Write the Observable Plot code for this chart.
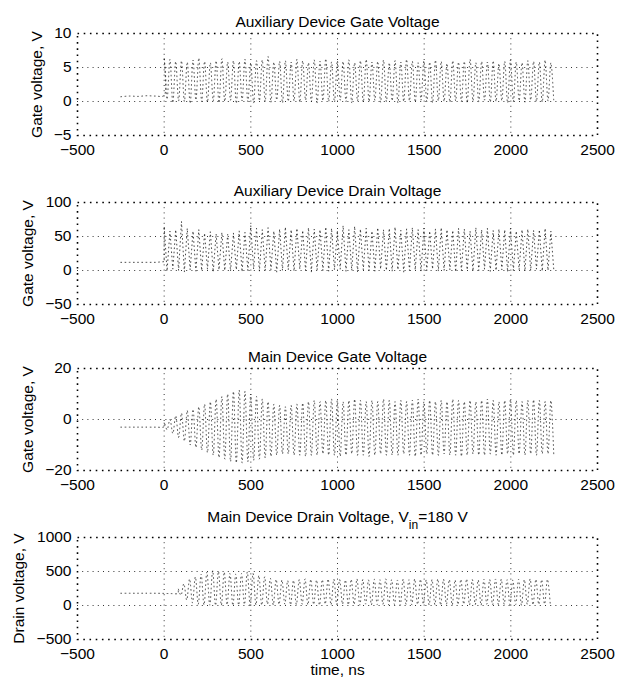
<!DOCTYPE html>
<html>
<head>
<meta charset="utf-8">
<script src="https://cdn.jsdelivr.net/npm/d3@7"></script>
<script src="https://cdn.jsdelivr.net/npm/@observablehq/plot@0.6"></script>
<style>
  html, body { margin: 0; padding: 0; background: #fff; }
  #chart { width: 628px; }
  #chart svg { display: block; }
</style>
</head>
<body>
<div id="chart"></div>
<script>
// ---------- axis data ----------
const xTicks = [-500, 0, 500, 1000, 1500, 2000, 2500];
const xTickLabels = ["\u2212500", "0", "500", "1000", "1500", "2000", "2500"];

const titles = [
  "Auxiliary Device Gate Voltage",
  "Auxiliary Device Drain Voltage",
  "Main Device Gate Voltage",
  "Main Device Drain Voltage, Vin=180 V"
];
const yLabels = ["Gate voltage, V", "Gate voltage, V", "Gate voltage, V", "Drain voltage, V"];
const yDomains = [[-5, 10], [-50, 100], [-20, 20], [-500, 1000]];
const yTicks1 = [-5, 0, 5, 10];
const yTicks2 = [-50, 0, 50, 100];
const yTicks3 = [-20, 0, 20];
const yTicks4 = [-500, 0, 500, 1000];
const yTickLabels1 = ["\u22125", "0", "5", "10"];
const yTickLabels2 = ["\u221250", "0", "50", "100"];
const yTickLabels3 = ["\u221220", "0", "20"];
const yTickLabels4 = ["\u2212500", "0", "500", "1000"];

// ---------- signal data (ns, V) ----------
const period = 33.3; // oscillation period, ns

// Auxiliary gate
const auxGatePreT = [-250, -200, -150, -100, -50, 0];
const auxGatePreV = [0.7, 0.8, 0.75, 0.85, 0.8, 0.9];
const auxGateStart = 0;
const auxGateHi = [6.5, 6.2, 5.9, 6.0, 5.8, 6.1, 6.4, 5.9, 5.7, 6.0,
                   6.3, 5.8, 6.0, 5.9, 6.2, 5.7, 6.0, 6.1, 6.6, 5.8,
                   5.9, 6.0, 5.8, 6.2, 6.0, 5.7, 6.1, 5.9, 6.3, 5.8,
                   6.0, 5.9, 6.1, 5.7, 6.0, 6.2, 5.8, 5.9, 6.1, 5.7,
                   6.0, 5.8, 6.2, 5.9, 5.7, 6.0, 5.8, 6.1, 5.9, 5.6,
                   6.0, 5.8, 5.9, 6.2, 5.7, 5.9, 5.8, 6.0, 5.6, 5.9,
                   6.1, 5.8, 5.7, 6.0, 5.9, 5.8, 6.1, 5.7];
const auxGateLo = [0.3, -0.2, 0.1, 0.0, -0.3, 0.2, 0.0, -0.1, 0.1, -0.2,
                   0.0, 0.2, -0.3, 0.1, 0.0, -0.2, 0.1, 0.0, -0.1, 0.2,
                   -0.2, 0.0, 0.1, -0.1, 0.2, 0.0, -0.2, 0.1, 0.0, -0.1,
                   0.2, 0.0, -0.2, 0.1, -0.1, 0.0, 0.2, -0.1, 0.0, 0.1,
                   -0.2, 0.0, 0.1, -0.1, 0.2, 0.0, -0.2, 0.1, 0.0, -0.1,
                   0.1, 0.0, -0.2, 0.1, 0.0, 0.2, -0.1, 0.0, 0.1, -0.2,
                   0.0, 0.1, -0.1, 0.2, 0.0, -0.1, 0.1, 0.0];

// Auxiliary drain
const auxDrainPreT = [-250, -200, -150, -100, -50, 0];
const auxDrainPreV = [12, 12, 12, 12, 12, 13];
const auxDrainStart = 0;
const auxDrainHi = [65, 58, 60, 72, 62, 58, 60, 55, 57, 54,
                    56, 53, 55, 58, 56, 66, 62, 60, 63, 58,
                    61, 64, 60, 62, 59, 63, 61, 60, 64, 62,
                    59, 66, 60, 65, 61, 62, 58, 63, 60, 62,
                    64, 59, 61, 63, 60, 62, 58, 61, 63, 60,
                    59, 62, 61, 58, 63, 60, 62, 59, 61, 60,
                    62, 58, 60, 61, 59, 60, 62, 58];
const auxDrainLo = [-1, 2, 0, -2, 1, -1, 0, 2, -2, 1,
                    0, -1, 1, -2, 0, 2, -1, 0, 1, -2,
                    0, 1, -1, 2, 0, -2, 1, 0, -1, 1,
                    2, -1, 0, -2, 1, 0, -1, 2, 0, -1,
                    1, -2, 0, 1, -1, 0, 2, -1, 0, 1,
                    -2, 0, 1, -1, 0, 2, -1, 0, 1, -2,
                    0, 1, -1, 0, 2, -1, 0, 1];

// Main gate
const mainGatePreT = [-250, -200, -150, -100, -50, 0];
const mainGatePreV = [-3, -3, -3, -3, -3, -2.8];
const mainGateStart = 0;
const mainGateHi = [-1, 0, 1.5, 2.5, 3.5, 4, 5, 6, 7, 8,
                    9, 10, 11, 11.5, 11, 10, 9, 8, 7, 6,
                    5.5, 5, 5.5, 6, 6.5, 7, 7.5, 7, 7.5, 8,
                    7.5, 7, 7.5, 8, 7.5, 7, 7.5, 7, 8, 7.5,
                    7, 7.5, 7, 7.5, 8, 7, 7.5, 7, 7.5, 7,
                    8, 7.5, 7, 7.5, 7, 7.5, 8, 7.5, 7, 7.5,
                    7.8, 7.5, 7, 7.5, 7.8, 7.5, 7, 7.5];
const mainGateLo = [-4, -5.5, -7, -8.5, -10, -11, -12, -13, -14, -15,
                    -15.5, -16.5, -17, -17, -16.5, -16, -15.5, -15, -14.5, -14,
                    -13.5, -13.5, -14, -14, -14.5, -14, -14, -13.5, -14, -14,
                    -14.5, -14, -13.5, -14, -14, -14.5, -14, -13.5, -14, -14,
                    -14, -13.5, -14, -14.5, -14, -13.5, -14, -14, -13.5, -14,
                    -14, -14.5, -14, -13.5, -14, -14, -13.5, -14, -14, -13.5,
                    -14, -13.5, -14, -13.5, -14, -13.5, -13.5, -14];

// Main drain
const mainDrainPreT = [-250, -200, -150, -100, -50, 0, 40, 80];
const mainDrainPreV = [180, 180, 180, 180, 180, 178, 175, 180];
const mainDrainStart = 80;
const mainDrainHi = [250, 320, 390, 420, 460, 490, 510, 500, 490, 470,
                     460, 470, 490, 470, 440, 420, 400, 385, 375, 365,
                     370, 380, 390, 385, 375, 380, 390, 385, 380, 375,
                     385, 390, 380, 375, 385, 380, 390, 380, 375, 385,
                     380, 390, 385, 375, 380, 390, 385, 380, 375, 385,
                     390, 380, 375, 385, 380, 390, 385, 380, 375, 385,
                     380, 390, 385, 380, 385];
const mainDrainLo = [150, 80, 40, 20, 10, 5, 0, 5, 10, 0,
                     5, 15, 0, 10, 5, 20, 10, 15, 20, 10,
                     15, 20, 10, 15, 5, 20, 10, 15, 20, 10,
                     15, 5, 20, 10, 15, 20, 10, 15, 5, 20,
                     10, 15, 20, 10, 15, 5, 20, 10, 15, 20,
                     10, 15, 5, 20, 10, 15, 20, 10, 15, 5,
                     20, 10, 15, 20, 10];

// ---------- build tables ----------
function buildSeries(preT, preV, start, hi, lo) {
  const pts = preT.map((t, i) => ({t, v: preV[i]}));
  const n = Math.min(hi.length, lo.length);
  for (let i = 0; i < n; i++) {
    pts.push({t: start + i * period, v: hi[i]});
    pts.push({t: start + i * period + period / 2, v: lo[i]});
  }
  return pts;
}

const panels = [
  {data: buildSeries(auxGatePreT, auxGatePreV, auxGateStart, auxGateHi, auxGateLo),
   yTicks: yTicks1, yTickLabels: yTickLabels1, curve: "catmull-rom", labelX: 37, titleDy: -17.5, height: 169},
  {data: buildSeries(auxDrainPreT, auxDrainPreV, auxDrainStart, auxDrainHi, auxDrainLo),
   yTicks: yTicks2, yTickLabels: yTickLabels2, curve: "linear", labelX: 28, titleDy: -17.5, height: 166},
  {data: buildSeries(mainGatePreT, mainGatePreV, mainGateStart, mainGateHi, mainGateLo),
   yTicks: yTicks3, yTickLabels: yTickLabels3, curve: "catmull-rom", labelX: 28, titleDy: -18, height: 169},
  {data: buildSeries(mainDrainPreT, mainDrainPreV, mainDrainStart, mainDrainHi, mainDrainLo),
   yTicks: yTicks4, yTickLabels: yTickLabels4, curve: "catmull-rom", labelX: 19, titleDy: -26.5, height: 177}
];

const plotTop = 33, plotH = 102, mLeft = 77, mRight = 31;
const font = "'Liberation Sans', Arial, Helvetica, sans-serif";
const fs = 15.5;
const chart = document.getElementById("chart");

panels.forEach((p, k) => {
  const isLast = k === panels.length - 1;
  const marks = [
    Plot.ruleX(xTicks.slice(1, -1), {stroke: "#333", strokeWidth: 1, strokeDasharray: "1,4.2"}),
    Plot.ruleY(p.yTicks.slice(1, -1), {stroke: "#333", strokeWidth: 1, strokeDasharray: "1,4.2"}),
    Plot.line(p.data, {x: "t", y: "v", curve: p.curve, stroke: "#1a1a1a", strokeWidth: 0.8, strokeDasharray: "0.8,3.4"}),
    Plot.frame({stroke: "#000", strokeWidth: 1.6, strokeDasharray: "1.6,4.6"}),
    Plot.axisX({ticks: xTicks, tickSize: 0, tickPadding: 8, label: null, fontSize: fs,
                tickFormat: (d) => xTickLabels[xTicks.indexOf(d)]}),
    Plot.axisY({ticks: p.yTicks, tickSize: 0, tickPadding: 6, label: null, fontSize: fs,
                tickFormat: (d) => p.yTickLabels[p.yTicks.indexOf(d)]}),
    Plot.text([titles[k]], {frameAnchor: "top", textAnchor: "middle", dy: p.titleDy, fontSize: fs}),
    Plot.text([yLabels[k]], {frameAnchor: "left", textAnchor: "middle", dx: p.labelX - mLeft, rotate: -90, fontSize: fs})
  ];
  if (isLast) {
    marks.push(Plot.text(["time, ns"], {frameAnchor: "bottom", textAnchor: "middle", dy: 35.5, fontSize: fs}));
  }
  const svg = Plot.plot({
    width: 628,
    height: p.height,
    marginLeft: mLeft,
    marginRight: mRight,
    marginTop: plotTop,
    marginBottom: p.height - plotTop - plotH,
    style: {fontFamily: font, fontSize: fs + "px", background: "#fff", color: "#000", overflow: "visible"},
    x: {domain: [-500, 2500]},
    y: {domain: yDomains[k]},
    marks
  });
  chart.appendChild(svg);
});

// subscript "in" in the last title
d3.select(chart).selectAll("text").filter(function () {
  return this.textContent === titles[3];
}).each(function () {
  const t = d3.select(this);
  t.text(null);
  t.append("tspan").text("Main Device Drain Voltage, V");
  t.append("tspan").attr("dy", "7").attr("font-size", "12").text("in");
  t.append("tspan").attr("dy", "-7").text("=180 V");
});
</script>
</body>
</html>
